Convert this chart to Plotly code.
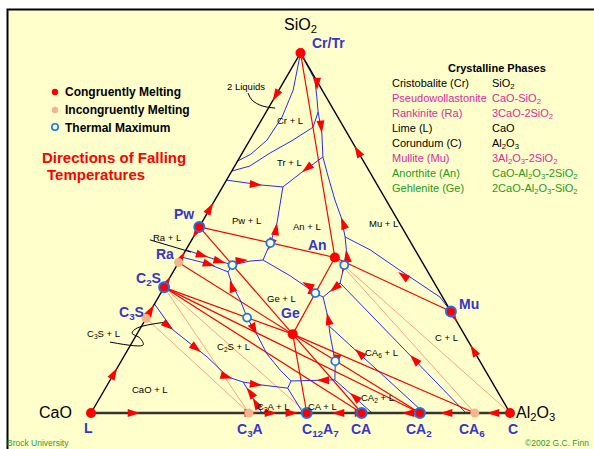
import math
import plotly.graph_objects as go

# ---------------------------------------------------------------
# compositions are wt%  (Al2O3, SiO2) ; CaO = 100 - Al2O3 - SiO2
# ---------------------------------------------------------------
compounds = ["Cr/Tr", "L", "C", "Pw", "Ra", "C2S", "C3S", "C3A", "C12A7", "CA", "CA2", "CA6", "Mu", "An", "Ge"]
compound_al2o3 = [0, 0, 100, 0, 0, 0, 0, 37.7, 51.5, 64.6, 78.5, 91.6, 71.8, 36.6, 37.2]
compound_sio2 = [100, 0, 0, 51.7, 41.8, 34.9, 26.3, 0, 0, 0, 0, 0, 28.2, 43.2, 21.9]
# c = congruent, cm = congruent + thermal maximum, i = incongruent
compound_kind = ["c", "c", "c", "cm", "i", "cm", "i", "i", "cm", "cm", "cm", "i", "cm", "c", "c"]

# Alkemade lines
joins = [("Cr/Tr", "An"), ("Pw", "An"), ("An", "Mu"), ("An", "Ge"), ("Pw", "Ge"), ("Ra", "Ge"),
         ("C2S", "Ge"), ("C2S", "CA2"), ("C2S", "CA"), ("Ge", "C12A7"), ("Ge", "CA"), ("Ge", "CA2"),
         ("Ge", "CA6")]
joins_thin = [("C3S", "C3A"), ("C2S", "C3A"), ("C2S", "C12A7"), ("An", "CA6"), ("An", "C")]

# boundary curves
two_liquids = [(0, 100), (3.4, 89.7), (4.5, 82.2), (4.1, 75.8), (2.2, 71.9), (0, 70.0)]
cr_tr = [(12.4, 83.6), (13.3, 79.4), (10.3, 75.8), (6.6, 72.2), (3.6, 68.6), (0, 67.2)]
silica_side = [(0, 100), (7.2, 92.5), (10.0, 87.8), (12.4, 83.6), (16.2, 77.8), (19.8, 71.1), (23.0, 66.7),
               (28.6, 59.2), (32.5, 54.4), (36.2, 48.9), (38.3, 45.3), (39.9, 41.1), (41.4, 36.1)]
tr_pw = [(0, 64.7), (9.2, 63.3), (14.4, 62.8)]
tr_an = [(14.4, 62.8), (16.9, 66.9), (19.8, 71.1)]
pw_an = [(14.4, 62.8), (15.7, 59.2), (18.0, 52.8), (19.2, 47.2), (19.8, 42.5)]
an_ge = [(19.8, 42.5), (28.5, 38.1), (36.9, 33.3), (39.3, 32.2)]
an_ca6 = [(41.4, 36.1), (39.3, 32.2)]
pw_ge = [(19.8, 42.5), (16.8, 42.2), (13.2, 41.1)]
ra_upper = [(0, 45.3), (6.9, 43.1), (13.2, 41.1)]
ra_lower = [(0, 43.3), (7.0, 41.5), (13.1, 39.2)]
c2s_ge = [(13.2, 41.1), (13.1, 39.2), (15.9, 35.6), (19.9, 31.4), (24.0, 26.5), (28.8, 21.7), (33.8, 16.4),
          (39.2, 11.9), (43.3, 8.9), (43.5, 6.9)]
ge_ca = [(39.3, 32.2), (42.4, 27.8), (44.7, 24.2), (45.9, 22.2), (49.0, 17.5), (51.1, 14.4), (53.6, 9.2)]
ca_ca2 = [(53.6, 9.2), (67.1, 0)]
ca_c12a7 = [(53.6, 9.2), (43.3, 8.9)]
c12a7_c3a = [(43.5, 6.9), (50.6, 0)]
ca2_ca6 = [(44.7, 24.2), (79.5, 0)]
ca6_cor = [(41.4, 36.1), (89.5, 0)]
mu_cor = [(36.2, 48.9), (44.0, 45.3), (53.8, 39.7), (67.2, 32.2), (71.8, 28.2), (73.6, 26.4)]
c3s_c2s = [(0, 30.3), (8.0, 23.1), (19.9, 15.6), (27.7, 10.0), (32.0, 8.6)]
c2s_c3a = [(32.0, 8.6), (36.7, 7.8), (43.5, 6.9)]
cao_c3a = [(32.0, 8.6), (37.1, 3.6), (40.8, 0)]
boundaries = [two_liquids, cr_tr, silica_side, tr_pw, tr_an, pw_an, an_ge, an_ca6, pw_ge, ra_upper, ra_lower,
              c2s_ge, ge_ca, ca_ca2, ca_c12a7, c12a7_c3a, ca2_ca6, ca6_cor, mu_cor, c3s_c2s, c2s_c3a, cao_c3a]

thermal_max = [(19.2, 47.2), (13.2, 41.1), (24.0, 26.5), (36.9, 33.3), (39.9, 41.1), (51.1, 14.4)]

# falling temperature arrows: (Al2O3, SiO2, dAl2O3, dSiO2)
arrows = [
    (0, 86.7, 0, -1), (0, 58.3, 0, 1), (0, 48.6, 0, -1), (0, 44.7, 0, 1), (0, 37.8, 0, 1),
    (0, 30.0, 0, 1), (0, 12.5, 0, 1), (2.2, 97.8, 1, -1), (25.8, 74.2, -1, 1), (81.1, 18.9, -1, 1),
    (74.6, 25.4, 1, -1),
    (11.7, 0, 1, 0), (39.6, 0, 1, 0), (44.4, 0, 1, 0), (49.4, 0, 1, 0), (57.5, 0, -1, 0),
    (65.9, 0, 1, 0), (74.2, 0, -1, 0), (80.2, 0, 1, 0), (83.3, 0, -1, 0), (94.5, 0, -1, 0),
    (9.1, 89.7, 0.5, -1), (16.2, 77.8, 0.6, -1), (32.5, 54.4, -0.8, 1), (38.3, 45.3, -0.6, 1),
    (40.5, 38.9, 0.3, -1), (9.2, 63.3, 1, -0.1), (16.9, 66.9, -0.6, -1), (18.0, 52.8, -0.36, 1),
    (19.6, 45.3, 0.1, -1), (16.2, 42.5, 1, 0.1), (6.3, 43.3, 1, -0.3), (9.2, 40.8, 1, -0.3),
    (11.3, 41.7, 1, -0.27), (14.7, 36.9, -0.76, 1), (28.8, 21.7, 0.95, -1), (32.2, 36.4, -1, 0.5),
    (38.4, 32.6, 1, -0.45), (40.2, 33.6, -0.54, -1), (42.4, 27.8, -0.7, 1), (52.1, 12.8, 0.42, -1),
    (49.3, 9.1, -1, 0), (59.0, 5.6, -1, 0.67), (54.1, 17.8, -1, 0.7), (68.1, 16.1, -1, 0.75),
    (53.7, 39.2, -1, 0.6), (8.0, 23.1, 1, -0.63), (17.8, 16.9, 1, -0.63), (29.0, 9.6, 1, -0.3),
    (37.0, 7.7, 1, -0.13), (33.6, 7.1, -1, 0.9), (36.5, 4.2, -1, 1),
]

# labels
vertex_labels = ["SiO<sub>2</sub>", "CaO", "Al<sub>2</sub>O<sub>3</sub>"]
vertex_label_al2o3 = [-4.0, -8.4, 106.0]
vertex_label_sio2 = [107.8, 0, 0]

phase_labels = ["Cr/Tr", "Pw", "Ra", "C<sub>2</sub>S", "C<sub>3</sub>S", "An", "Ge", "Mu", "L",
                "C<sub>3</sub>A", "C<sub>12</sub>A<sub>7</sub>", "CA", "CA<sub>2</sub>", "CA<sub>6</sub>", "C"]
phase_label_al2o3 = [5.2, -5.4, -4.4, -5.1, -4.5, 30.8, 33.6, 75.1, 1.6, 40.1, 56.9, 66.6, 80.5, 93.1, 102.9]
phase_label_sio2 = [102.8, 55.3, 44.2, 37.5, 28.1, 46.7, 27.8, 30.3, -4.2, -4.4, -4.4, -4.4, -4.4, -4.4, -4.4]

field_labels = ["2 Liquids", "Cr + L", "Tr + L", "Pw + L", "An + L", "Mu + L", "Ra + L", "Ge + L",
                "C<sub>2</sub>S + L", "C<sub>3</sub>S + L", "CaO + L", "C<sub>3</sub>A + L", "CA + L",
                "CA<sub>2</sub> + L", "CA<sub>6</sub> + L", "C + L"]
field_al2o3 = [-8.4, 6.8, 12.6, 10.2, 25.6, 43.3, -6.3, 29.4, 24.8, -8.2, 10.7, 42.7, 54.4, 66.1, 61.0, 74.4]
field_sio2 = [90.8, 81.4, 69.7, 53.6, 51.9, 52.8, 48.9, 31.9, 18.6, 22.2, 6.7, 1.9, 1.9, 4.4, 16.9, 21.1]

leader_liquids = [(-7.0, 88.9), (-5.0, 86.9), (-1.8, 85.3), (1.6, 84.7)]
leader_ra = [(-10.0, 48.1), (1.5, 44.7)]
leader_c3s = [(-5.3, 19.7), (3.0, 18.9), (1.3, 20.8), (-1.3, 22.2), (-0.8, 23.6), (5.5, 25.3)]

table_names = ["Cristobalite (Cr)", "Pseudowollastonite", "Rankinite (Ra)", "Lime (L)", "Corundum (C)",
               "Mullite (Mu)", "Anorthite (An)", "Gehlenite (Ge)"]
table_formulas = ["SiO<sub>2</sub>", "CaO-SiO<sub>2</sub>", "3CaO-2SiO<sub>2</sub>", "CaO",
                  "Al<sub>2</sub>O<sub>3</sub>", "3Al<sub>2</sub>O<sub>3</sub>-2SiO<sub>2</sub>",
                  "CaO-Al<sub>2</sub>O<sub>3</sub>-2SiO<sub>2</sub>", "2CaO-Al<sub>2</sub>O<sub>3</sub>-SiO<sub>2</sub>"]
table_group = ["k", "m", "m", "k", "k", "m", "g", "g"]

##################################################
W, H = 594, 449
X0, X1 = -21.718, 120.048
Y0, Y1 = -10.0, 114.722
KX = W / (X1 - X0)
KY = H / (Y1 - Y0)

RED = "#FF0000"
BLUE = "#2828FF"
RING = "#1577F0"
PEACH = "#F6B48E"
CREAM = "#FFFFCC"
LABEL_BLUE = "#3535CC"
FONT = "Liberation Sans, Arial, sans-serif"


def xy(al, si):
    return al + si / 2.0, si


def line_xy(points):
    xs, ys = [], []
    for al, si in points:
        x, y = xy(al, si)
        xs.append(x)
        ys.append(y)
    return xs, ys


def half_box(size):
    # pixels from the middle of a one-line text box to its top
    return 0.65 * size + 1


def data_text(al, si, text, size, color, xanchor="center"):
    # top anchored so that subscripts do not move the baseline
    x, y = xy(al, si)
    fig.add_annotation(x=x, y=y + half_box(size) / KY, text=text, showarrow=False, xanchor=xanchor,
                       yanchor="top", font=dict(family=FONT, size=size, color=color))


def paper_text(px, py, text, size, color, xanchor="left"):
    fig.add_annotation(x=px / W, y=1 - (py - half_box(size)) / H, xref="paper", yref="paper",
                       text=text, showarrow=False, xanchor=xanchor, yanchor="top",
                       font=dict(family=FONT, size=size, color=color))


comp = {n: (a, s) for n, a, s in zip(compounds, compound_al2o3, compound_sio2)}

fig = go.Figure()

# cream frame
fig.add_shape(type="rect", xref="paper", yref="paper", x0=7.5 / W, x1=1.05, y0=-0.05, y1=1 - 9.5 / H,
              fillcolor=CREAM, line=dict(color="black", width=2), layer="below")

for a, b in joins_thin:
    xs, ys = line_xy([comp[a], comp[b]])
    fig.add_trace(go.Scatter(x=xs, y=ys, mode="lines", line=dict(color="#FF8870", width=0.8), hoverinfo="skip"))
for a, b in joins:
    xs, ys = line_xy([comp[a], comp[b]])
    fig.add_trace(go.Scatter(x=xs, y=ys, mode="lines", line=dict(color=RED, width=1.2), hoverinfo="skip"))

for b in boundaries:
    xs, ys = line_xy(b)
    fig.add_trace(go.Scatter(x=xs, y=ys, mode="lines", line=dict(color=BLUE, width=1.0), hoverinfo="skip"))

# triangle
xs, ys = line_xy([(0, 0), (0, 100), (100, 0)])
fig.add_trace(go.Scatter(x=xs, y=ys, mode="lines", line=dict(color="black", width=1.4), hoverinfo="skip"))
xs, ys = line_xy([(0, 0), (100, 0)])
fig.add_trace(go.Scatter(x=xs, y=ys, mode="lines", line=dict(color="#333333", width=2.6), hoverinfo="skip"))

# leaders
for pts, shp in [(leader_liquids, "spline"), (leader_ra, "linear"), (leader_c3s, "spline")]:
    xs, ys = line_xy(pts)
    fig.add_trace(go.Scatter(x=xs, y=ys, mode="lines", line=dict(color="black", width=1, shape=shp),
                             hoverinfo="skip"))

# arrows
ax, ay, ang = [], [], []
for al, si, dal, dsi in arrows:
    x, y = xy(al, si)
    ax.append(x)
    ay.append(y)
    ang.append(math.degrees(math.atan2((dal + dsi / 2.0) * KX, dsi * KY)))
fig.add_trace(go.Scatter(x=ax, y=ay, mode="markers", hoverinfo="skip",
                         marker=dict(symbol="arrow", size=13, angle=ang, color=RED, line=dict(width=0))))

# thermal maxima
xs, ys = line_xy(thermal_max)
fig.add_trace(go.Scatter(x=xs, y=ys, mode="markers", hoverinfo="skip",
                         marker=dict(symbol="circle", size=8, color=CREAM, line=dict(color=RING, width=1.8))))

# compounds
for kind in ["c", "cm", "i"]:
    pts = [comp[n] for n, k in zip(compounds, compound_kind) if k == kind]
    xs, ys = line_xy(pts)
    if kind == "c":
        mk = dict(size=10, color=RED, line=dict(width=0))
    elif kind == "cm":
        mk = dict(size=10, color=RED, line=dict(color=RING, width=2))
    else:
        mk = dict(size=9, color=PEACH, line=dict(width=0))
    fig.add_trace(go.Scatter(x=xs, y=ys, mode="markers", marker=mk, hoverinfo="skip"))

# text in composition space
for t, a, s in zip(vertex_labels, vertex_label_al2o3, vertex_label_sio2):
    data_text(a, s, t, 16, "black")
for t, a, s in zip(phase_labels, phase_label_al2o3, phase_label_sio2):
    data_text(a, s, "<b>" + t + "</b>", 14, LABEL_BLUE)
for t, a, s in zip(field_labels, field_al2o3, field_sio2):
    data_text(a, s, t, 9.5, "black")

# legend (paper)
for py, fill, ring in [(92, RED, RED), (110, PEACH, PEACH), (127, CREAM, RING)]:
    r = 3.2
    fig.add_shape(type="circle", xref="paper", yref="paper", x0=(55 - r) / W, x1=(55 + r) / W,
                  y0=1 - (py + r) / H, y1=1 - (py - r) / H, fillcolor=fill,
                  line=dict(color=ring, width=1.6 if fill == CREAM else 0))
for txt, py in [("Congruently Melting", 92), ("Incongruently Melting", 110), ("Thermal Maximum", 128)]:
    paper_text(63, py, "<b>" + txt + "</b>", 12, "black")
paper_text(40, 158, "<b>Directions of Falling</b>", 15, RED)
paper_text(45, 175, "<b>Temperatures</b>", 15, RED)

# crystalline phases table
paper_text(497, 68, "<b>Crystalline Phases</b>", 11, "black", xanchor="center")
group_color = {"k": "black", "m": "#E0289E", "g": "#229A22"}
for i, (nm, fm, g) in enumerate(zip(table_names, table_formulas, table_group)):
    py = 83 + 15 * i
    paper_text(390, py, nm, 11, group_color[g])
    paper_text(490, py, fm, 11, group_color[g])

paper_text(5, 443, "Brock University", 8.5, "#2E9A2E")
paper_text(591, 443, "©2002 G.C. Finn", 8.5, "#2E9A2E", xanchor="right")

fig.update_layout(
    width=W, height=H,
    margin=dict(l=0, r=0, t=0, b=0),
    paper_bgcolor="white",
    plot_bgcolor="rgba(0,0,0,0)",
    showlegend=False,
    xaxis=dict(range=[X0, X1], visible=False, fixedrange=True),
    yaxis=dict(range=[Y0, Y1], visible=False, fixedrange=True),
)

fig.write_html("out.html", config={"displayModeBar": False},
               post_script="document.body.style.margin='0px';document.body.style.overflow='hidden';")
